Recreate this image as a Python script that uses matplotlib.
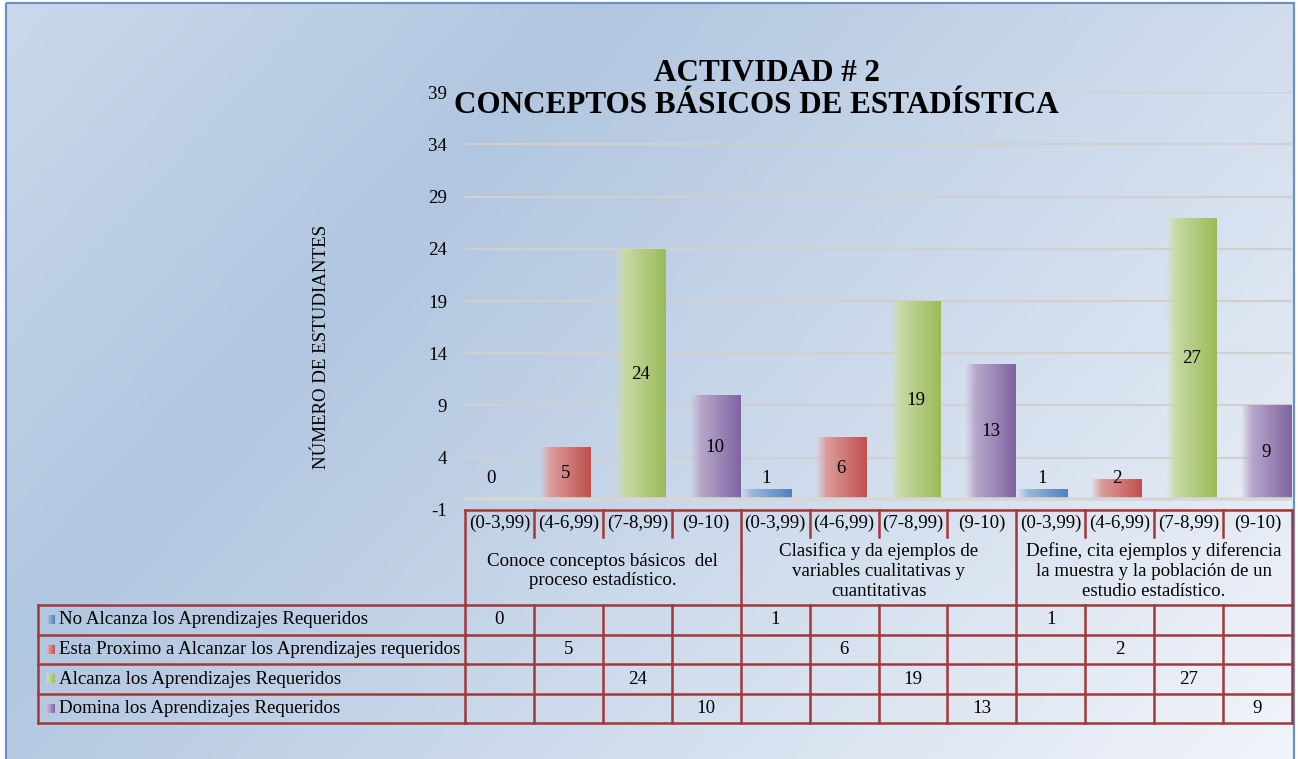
import numpy as np
import matplotlib
matplotlib.use("Agg")
import matplotlib.pyplot as plt
from matplotlib import transforms
from matplotlib.colors import to_rgb
from matplotlib.patches import Rectangle

# ---------------- data ----------------
intervals = ["(0-3,99)", "(4-6,99)", "(7-8,99)", "(9-10)"] * 3
groups = ["Conoce conceptos básicos  del\nproceso estadístico.",
          "Clasifica y da ejemplos de\nvariables cualitativas y\ncuantitativas",
          "Define, cita ejemplos y diferencia\nla muestra y la población de un\nestudio estadístico."]
series_names = ["No Alcanza los Aprendizajes Requeridos",
                "Esta Proximo a Alcanzar los Aprendizajes requeridos",
                "Alcanza los Aprendizajes Requeridos",
                "Domina los Aprendizajes Requeridos"]
no_alcanza = [0, None, None, None, 1, None, None, None, 1, None, None, None]
esta_proximo = [None, 5, None, None, None, 6, None, None, None, 2, None, None]
alcanza = [None, None, 24, None, None, None, 19, None, None, None, 27, None]
domina = [None, None, None, 10, None, None, None, 13, None, None, None, 9]
series = [no_alcanza, esta_proximo, alcanza, domina]
yticks = [-1, 4, 9, 14, 19, 24, 29, 34, 39]
title1 = "ACTIVIDAD # 2"
title2 = "CONCEPTOS BÁSICOS DE ESTADÍSTICA"
ylabel = "NÚMERO DE ESTUDIANTES"
colors = ["#4f81bd", "#c0504d", "#9bbb59", "#8064a2"]

plt.rcParams["font.family"] = ["Liberation Serif", "DejaVu Serif"]
FS = 13.6

W, H = 1298, 759
fig = plt.figure(figsize=(W / 100, H / 100), dpi=100, facecolor="white")

# ---------------- background gradient ----------------
bg = fig.add_axes([0, 0, 1, 1], zorder=0)
bg.set_xlim(0, W)
bg.set_ylim(H, 0)
bg.axis("off")
gx = np.linspace(0, 1, 260)
gy = np.linspace(0, 1, 152)
X, Y = np.meshgrid(gx, gy)
T = 0.65 * X + 0.35 * Y
stops = [0.0, 0.3, 1.0]
scol = [to_rgb("#cad9ec"), to_rgb("#b1c6e0"), to_rgb("#f1f4fa")]
img = np.zeros(T.shape + (3,))
for c in range(3):
    img[..., c] = np.interp(T, stops, [sc[c] for sc in scol])
bg.imshow(img, extent=(6, 1294, 760, 3), aspect="auto", interpolation="bilinear")
bg.add_patch(Rectangle((6, 3), 1288, 760, fill=False, edgecolor="#6b8fc7", lw=1.6))
bg.set_xlim(0, W)
bg.set_ylim(H, 0)

# ---------------- main chart ----------------
px_left, px_right, px_top, px_bot = 465, 1292, 92.3, 509.9
ax = fig.add_axes([px_left / W, 1 - px_bot / H, (px_right - px_left) / W, (px_bot - px_top) / H], zorder=1)
ax.patch.set_alpha(0)
for sp in ax.spines.values():
    sp.set_visible(False)
ax.set_xticks([])
ax.set_yticks(yticks)
ax.set_yticklabels([str(t) for t in yticks], fontsize=FS)
ax.tick_params(axis="y", length=0, pad=13)
ax.yaxis.grid(True, color="#d2cfcc", lw=1.6)
ax.set_axisbelow(True)


def grad_image(col, fade=True):
    n = 64
    t = np.linspace(0, 1, n)
    base = np.array(to_rgb(col))
    mix = 0.45 + 0.55 * t
    rgb = 1 - mix[:, None] * (1 - base[None, :])
    if fade:
        a = np.clip(t / 0.2, 0, 1) ** 0.8
    else:
        a = np.ones(n)
    im = np.concatenate([rgb, a[:, None]], axis=1)
    return im[None, :, :]


width = 0.736
step = 0.084
offs = [(s - 1.5) * step for s in range(4)]
for s, vals in enumerate(series):
    xs = [i + offs[s] for i, v in enumerate(vals) if v is not None]
    hs = [v for v in vals if v is not None]
    bars = ax.bar(xs, hs, width=width, color="none", linewidth=0)
    gimg = grad_image(colors[s])
    for p, v in zip(bars.patches, hs):
        x0, w, h = p.get_x(), p.get_width(), p.get_height()
        if h > 0:
            im = ax.imshow(gimg, extent=(x0, x0 + w, 0, h), aspect="auto",
                           interpolation="bilinear", zorder=2)
            im.set_clip_path(p)
        ax.text(x0 + w / 2, max(v / 2, 2.0), str(v), ha="center", va="center",
                fontsize=FS, zorder=4)

ax.axhline(0.05, color="#d6d6d6", lw=2.6, zorder=3)
ax.set_xlim(-0.5, 11.5)
ax.set_ylim(-1, 39)

# ---------------- overlay: titles and data table ----------------
ov = fig.add_axes([0, 0, 1, 1], zorder=2)
ov.patch.set_alpha(0)
ov.axis("off")
ov.set_xlim(0, W)
ov.set_ylim(H, 0)
tr = transforms.blended_transform_factory(ax.transData, ov.transData)

ov.text(767, 81, title1, ha="center", va="baseline", fontsize=22.4, fontweight="bold")
ov.text(756, 113, title2, ha="center", va="baseline", fontsize=22.4, fontweight="bold")
ov.text(322, 347, ylabel, rotation=90, ha="center", va="center", fontsize=FS)

lc = "#a23838"
lw = 1.8
y_top, y_int, y_grp = 510, 537, 605
row_y = [605, 634.5, 664, 694, 723]
n = len(intervals)

ov.plot([-0.5, n - 0.5], [y_top, y_top], color=lc, lw=lw, transform=tr, solid_capstyle="projecting")
for i in range(n + 1):
    xb = i - 0.5
    y_end = y_grp if i % 4 == 0 else y_int
    ov.plot([xb, xb], [y_top, y_end], color=lc, lw=lw, transform=tr)
    ov.plot([xb, xb], [row_y[0], row_y[-1]], color=lc, lw=lw, transform=tr)
for y in row_y:
    ov.plot([38, 466], [y, y], color=lc, lw=lw, solid_capstyle="projecting")
    ov.plot([-0.5, n - 0.5], [y, y], color=lc, lw=lw, transform=tr, solid_capstyle="projecting")
ov.plot([38, 38], [row_y[0], row_y[-1]], color=lc, lw=lw)

for i, lab in enumerate(intervals):
    ov.text(i, 523.5, lab, ha="center", va="center", fontsize=FS, transform=tr)
for g, lab in enumerate(groups):
    ov.text(4 * g + 1.5, 571, lab, ha="center", va="center", fontsize=FS,
            transform=tr, linespacing=1.22)

for s, (name, vals) in enumerate(zip(series_names, series)):
    yc = (row_y[s] + row_y[s + 1]) / 2
    ov.imshow(grad_image(colors[s], fade=False), extent=(47, 55, yc + 4.5, yc - 4.5),
              aspect="auto", interpolation="bilinear")
    ov.text(59, yc, name, ha="left", va="center", fontsize=FS)
    for i, v in enumerate(vals):
        if v is not None:
            ov.text(i, yc, str(v), ha="center", va="center", fontsize=FS, transform=tr)

ov.set_xlim(0, W)
ov.set_ylim(H, 0)

fig.savefig("out.png", dpi=100, facecolor="white")
